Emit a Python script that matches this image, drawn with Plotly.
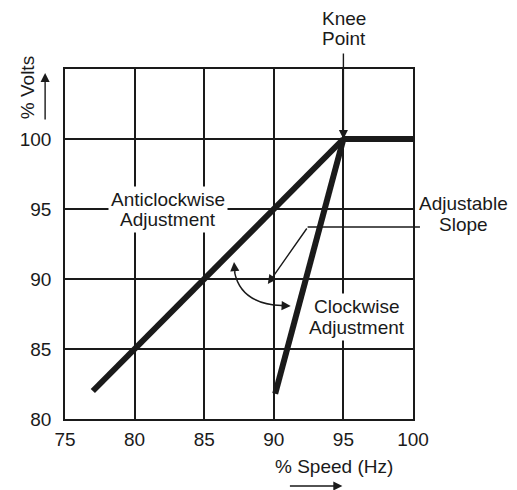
import plotly.graph_objects as go

# Data
speed_ticks = [75, 80, 85, 90, 95, 100]
volt_ticks = [80, 85, 90, 95, 100]
anti_x = [77, 95]
anti_y = [82, 100]
clock_x = [90.1, 95]
clock_y = [81.8, 100]
flat_x = [95, 100]
flat_y = [100, 100]
knee = (95, 100)

OFF = 8  # page body margin
W, H = 517 - OFF, 490 - OFF
L, T = 63 - OFF, 69 - OFF
PW, PH = 350, 350
R = W - L - PW
B = H - T - PH

def px(x):
    return (x - OFF - L) / PW

def py(y):
    return (T + PH - (y - OFF)) / PH

FONT = "Liberation Sans, Arial, sans-serif"
FS = 19
INK = "#1a1a1a"

fig = go.Figure()
for xs, ys in [(anti_x, anti_y), (clock_x, clock_y), (flat_x, flat_y)]:
    fig.add_trace(go.Scatter(x=xs, y=ys, mode="lines",
                             line=dict(color=INK, width=6),
                             showlegend=False, hoverinfo="skip"))

ann = []

def text(s, cx, cy, mask=False, angle=0, pad=2):
    ann.append(dict(text=s, x=px(cx), y=py(cy), xref="paper", yref="paper",
                    xanchor="center", yanchor="middle", showarrow=False,
                    textangle=angle,
                    font=dict(family=FONT, size=FS, color=INK),
                    bgcolor="white" if mask else None, borderpad=pad))

def arrow(hx, hy, tx, ty):
    # pixel coords (reference image) of head and tail
    ann.append(dict(text="", x=px(hx), y=py(hy), xref="paper", yref="paper",
                    ax=tx - hx, ay=ty - hy, axref="pixel", ayref="pixel",
                    showarrow=True, arrowhead=2, arrowsize=1.3, arrowwidth=1.4,
                    arrowcolor=INK))

# Knee point
text("Knee", 344, 18, pad=0)
text("Point", 344, 38, pad=0)
ann.append(dict(text="", x=knee[0], y=knee[1], xref="x", yref="y",
                ax=0, ay=-87, showarrow=True, arrowhead=2, arrowsize=1.3,
                arrowwidth=1.4, arrowcolor=INK))

# Anticlockwise
text("Anticlockwise", 167, 199, mask=True)
text("Adjustment", 167, 220, mask=True)
# Clockwise
text("Clockwise", 357, 306, mask=True)
text("Adjustment", 357, 327, mask=True)
# Adjustable slope
text("Adjustable", 464, 203)
text("Slope", 464, 224)

# Axis titles
text("% Volts", 25, 88, angle=-90)
text("% Speed (Hz)", 334, 466)
arrow(43, 73, 43, 121)
arrow(342, 486, 288, 486)

# Adjustable slope leader
arrow(267, 284, 307, 227)

# curved arrow ends
arrow(233, 262, 234, 274)
arrow(290, 306, 279, 305.5)

shapes = [
    dict(type="line", xref="paper", yref="paper",
         x0=px(307), y0=py(227), x1=px(420), y1=py(227),
         line=dict(color=INK, width=1.4)),
    dict(type="path", xref="paper", yref="paper",
         path=f"M {px(233.5)},{py(272)} Q {px(240)},{py(304)} {px(281)},{py(305.5)}",
         line=dict(color=INK, width=1.4)),
]

axis_common = dict(showgrid=True, gridcolor=INK, gridwidth=1.5,
                   showline=True, linecolor=INK, linewidth=1.5, mirror=True,
                   zeroline=False, ticks="",
                   tickfont=dict(family=FONT, size=FS, color=INK))

fig.update_xaxes(range=[75, 100], tickvals=speed_ticks, ticktext=[str(v) for v in speed_ticks],
                 ticklabelstandoff=2, **axis_common)
fig.update_yaxes(range=[80, 105], tickvals=volt_ticks, ticktext=[str(v) for v in volt_ticks],
                 ticklabelstandoff=8, **axis_common)

fig.update_layout(width=W, height=H, margin=dict(l=L, r=R, t=T, b=B, pad=0),
                  plot_bgcolor="white", paper_bgcolor="white",
                  annotations=ann, shapes=shapes,
                  font=dict(family=FONT, size=FS, color=INK))

fig.write_html("out.html")
